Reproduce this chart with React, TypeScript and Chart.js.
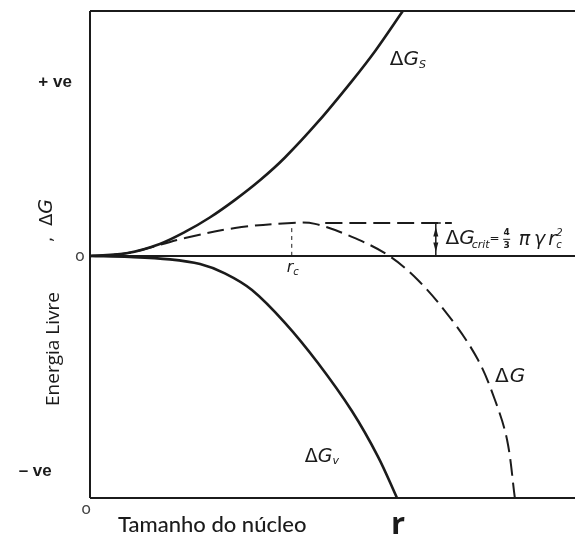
import { useEffect, useRef } from "react";
import { Chart, registerables } from "chart.js";

Chart.register(...registerables);

// Nucleus radius r (arbitrary units) and free-energy terms (arbitrary units)
const surfaceR = [0, 0.78, 1.44, 1.96, 2.47, 2.99, 3.51, 4.02, 4.7, 5.4, 5.88, 6.45];
const surfaceG = [0, 0.12, 0.49, 0.98, 1.57, 2.29, 3.1, 4.02, 5.47, 7.14, 8.37, 10];

const volumeR = [0, 0.82, 1.65, 2.27, 2.78, 3.34, 4.02, 4.7, 5.4, 5.94, 6.33];
const volumeG = [0, -0.04, -0.14, -0.33, -0.71, -1.39, -2.73, -4.37, -6.33, -8.2, -9.88];

const totalR = [0, 0.78, 1.96, 2.99, 4.16, 4.64, 5.4, 6.14, 6.76, 7.46, 8.0, 8.35, 8.6, 8.76];
const totalG = [0, 0.12, 0.73, 1.14, 1.35, 1.31, 0.78, 0.04, -0.98, -2.61, -4.24, -5.88, -7.51, -9.88];

// Critical radius and barrier height
const critR = 4.16;
const critG = 1.35;
const critGuideR = [4.85, 7.46];
const critArrowR = 7.13;

const rMin = 0;
const rMax = 10;
const gMin = -9.88;
const gMax = 10;

const toPoints = (xs: number[], ys: number[]) => xs.map((x, i) => ({ x, y: ys[i] }));

type Run = { text: string; font: string; dy?: number; gap?: number };

function drawRuns(ctx: CanvasRenderingContext2D, x: number, y: number, runs: Run[]) {
  let cx = x;
  for (const run of runs) {
    ctx.font = run.font;
    ctx.fillText(run.text, cx, y + (run.dy || 0));
    cx += ctx.measureText(run.text).width + (run.gap || 0);
  }
  return cx;
}

const INK = "#1b1b1b";
const LABEL_FONT = '"DejaVu Sans"';

const framePlugin = {
  id: "frame",
  beforeDatasetsDraw(chart: any) {
    const { ctx, chartArea } = chart;
    const { x, y } = chart.scales;
    const { left, right } = chartArea;
    const top = y.getPixelForValue(gMax);
    const bottom = y.getPixelForValue(gMin);
    const zero = y.getPixelForValue(0);
    ctx.save();
    ctx.strokeStyle = INK;
    ctx.lineWidth = 2;
    ctx.beginPath();
    ctx.moveTo(left, top);
    ctx.lineTo(right, top);
    ctx.moveTo(left, top);
    ctx.lineTo(left, bottom);
    ctx.moveTo(left, bottom);
    ctx.lineTo(right, bottom);
    ctx.moveTo(left, zero);
    ctx.lineTo(right, zero);
    ctx.stroke();

    // double-headed arrow marking the barrier height
    const ax = x.getPixelForValue(critArrowR);
    const ay0 = y.getPixelForValue(0);
    const ay1 = y.getPixelForValue(critG);
    ctx.lineWidth = 1.5;
    ctx.beginPath();
    ctx.moveTo(ax, ay0);
    ctx.lineTo(ax, ay1);
    ctx.moveTo(ax - 5, ay1);
    ctx.lineTo(ax + 5, ay1);
    ctx.stroke();
    ctx.fillStyle = INK;
    const mid = (ay0 + ay1) / 2;
    ctx.beginPath();
    ctx.moveTo(ax, ay1 + 4);
    ctx.lineTo(ax - 2.5, mid - 3);
    ctx.lineTo(ax + 2.5, mid - 3);
    ctx.closePath();
    ctx.fill();
    ctx.beginPath();
    ctx.moveTo(ax, ay0 - 4);
    ctx.lineTo(ax - 2.5, mid + 3);
    ctx.lineTo(ax + 2.5, mid + 3);
    ctx.closePath();
    ctx.fill();
    ctx.restore();
  },
};

const textPlugin = {
  id: "texts",
  afterDatasetsDraw(chart: any) {
    const { ctx } = chart;
    const { x, y } = chart.scales;
    const px = (v: number) => x.getPixelForValue(v);
    const py = (v: number) => y.getPixelForValue(v);
    ctx.save();
    ctx.fillStyle = INK;
    ctx.textBaseline = "middle";

    // side markers
    ctx.textAlign = "center";
    ctx.font = 'bold 17px "Liberation Sans"';
    ctx.fillText("+ ve", px(-0.72), py(7.1));
    ctx.fillText("\u2013 ve", px(-1.13), py(-8.78));
    ctx.fillStyle = "#444";
    ctx.font = '16px "DejaVu Sans"';
    ctx.fillText("o", px(-0.21), py(-0.02));
    ctx.fillText("o", px(-0.08), py(-10.35));
    ctx.fillStyle = INK;

    // axis titles
    ctx.font = '500 22px Lato';
    ctx.fillText("Tamanho do núcleo", px(2.52), py(-10.98));
    ctx.font = 'bold 31px "Open Sans"';
    ctx.fillText("r", px(6.35), py(-11.0));

    ctx.save();
    ctx.translate(px(-0.76), py(-3.8));
    ctx.rotate(-Math.PI / 2);
    ctx.font = '19px "Open Sans"';
    ctx.fillText("Energia Livre", 0, 0);
    ctx.restore();

    ctx.save();
    ctx.translate(px(-0.88), py(1.7));
    ctx.rotate(-Math.PI / 2);
    ctx.textAlign = "left";
    drawRuns(ctx, -28, 0, [
      { text: ",  ", font: `17px ${LABEL_FONT}` },
      { text: "\u0394", font: `18px ${LABEL_FONT}` },
      { text: "G", font: `oblique 19px ${LABEL_FONT}` },
    ]);
    ctx.restore();

    // curve labels
    ctx.textAlign = "left";
    drawRuns(ctx, px(6.18), py(8.0), [
      { text: "\u0394", font: `20px ${LABEL_FONT}` },
      { text: "G", font: `oblique 20px ${LABEL_FONT}` },
      { text: "S", font: `oblique 11px ${LABEL_FONT}`, dy: 5 },
    ]);
    drawRuns(ctx, px(8.35), py(-4.95), [
      { text: "\u0394", font: `20px ${LABEL_FONT}`, gap: 1 },
      { text: "G", font: `oblique 20px ${LABEL_FONT}` },
    ]);
    drawRuns(ctx, px(4.43), py(-8.2), [
      { text: "\u0394", font: `19px ${LABEL_FONT}` },
      { text: "G", font: `oblique 19px ${LABEL_FONT}` },
      { text: "v", font: `oblique 11px ${LABEL_FONT}`, dy: 4 },
    ]);
    drawRuns(ctx, px(critR) - 5, py(-0.5), [
      { text: "r", font: `oblique 16px ${LABEL_FONT}` },
      { text: "c", font: `oblique 10px ${LABEL_FONT}`, dy: 4 },
    ]);

    // barrier height formula
    const fx = px(7.33);
    const fy = py(0.7);
    const afterEq = drawRuns(ctx, fx, fy, [
      { text: "\u0394", font: `20px ${LABEL_FONT}` },
      { text: "G", font: `oblique 20px ${LABEL_FONT}`, gap: -3 },
      { text: "crit", font: `oblique 11px ${LABEL_FONT}`, dy: 6 },
      { text: "=", font: `12px ${LABEL_FONT}`, gap: 3 },
    ]);
    const fracX = afterEq + 4;
    ctx.textAlign = "center";
    ctx.font = `bold 9px ${LABEL_FONT}`;
    ctx.fillText("4", fracX, fy - 6);
    ctx.fillText("3", fracX, fy + 7);
    ctx.lineWidth = 1;
    ctx.strokeStyle = INK;
    ctx.beginPath();
    ctx.moveTo(fracX - 3.5, fy + 0.5);
    ctx.lineTo(fracX + 3.5, fy + 0.5);
    ctx.stroke();
    ctx.textAlign = "left";
    const afterGreek = drawRuns(ctx, fracX + 12, fy + 1, [
      { text: "\u03c0", font: `oblique 19px ${LABEL_FONT}`, gap: 4 },
      { text: "\u03b3", font: `oblique 19px ${LABEL_FONT}`, gap: 3 },
      { text: "r", font: `oblique 19px ${LABEL_FONT}` },
    ]);
    ctx.font = `oblique 10px ${LABEL_FONT}`;
    ctx.fillText("c", afterGreek, fy + 7);
    ctx.fillText("2", afterGreek, fy - 5);

    ctx.restore();
  },
};

export default function App() {
  const canvasRef = useRef<HTMLCanvasElement | null>(null);

  useEffect(() => {
    const canvas = canvasRef.current;
    if (!canvas) return;
    const solid = { borderColor: INK, borderWidth: 2.6, pointRadius: 0, showLine: true, tension: 0.35, fill: false };
    const chart = new Chart(canvas, {
      type: "scatter",
      data: {
        datasets: [
          { label: "\u0394Gs", data: toPoints(surfaceR, surfaceG), ...solid },
          { label: "\u0394Gv", data: toPoints(volumeR, volumeG), ...solid },
          {
            label: "\u0394G",
            data: toPoints(totalR, totalG),
            ...solid,
            borderWidth: 2,
            borderDash: [17, 7],
          },
          {
            label: "\u0394G crit",
            data: toPoints(critGuideR, [critG, critG]),
            ...solid,
            borderWidth: 2,
            borderDash: [17, 7],
          },
          {
            label: "r c",
            data: toPoints([critR, critR], [0, critG]),
            ...solid,
            borderWidth: 1,
            borderDash: [4, 4],
          },
        ],
      },
      options: {
        responsive: false,
        animation: false,
        layout: { padding: { left: 90, top: 11, right: 0, bottom: 46 } },
        plugins: { legend: { display: false }, tooltip: { enabled: false } },
        scales: {
          x: { type: "linear", min: rMin, max: rMax, display: false },
          y: { type: "linear", min: gMin, max: gMax, display: false },
        },
      },
      plugins: [framePlugin, textPlugin],
    });
    return () => chart.destroy();
  }, []);

  return (
    <div style={{ position: "absolute", left: 0, top: 0, width: 575, height: 544, background: "#fff" }}>
      <canvas ref={canvasRef} width={575} height={544} />
    </div>
  );
}
